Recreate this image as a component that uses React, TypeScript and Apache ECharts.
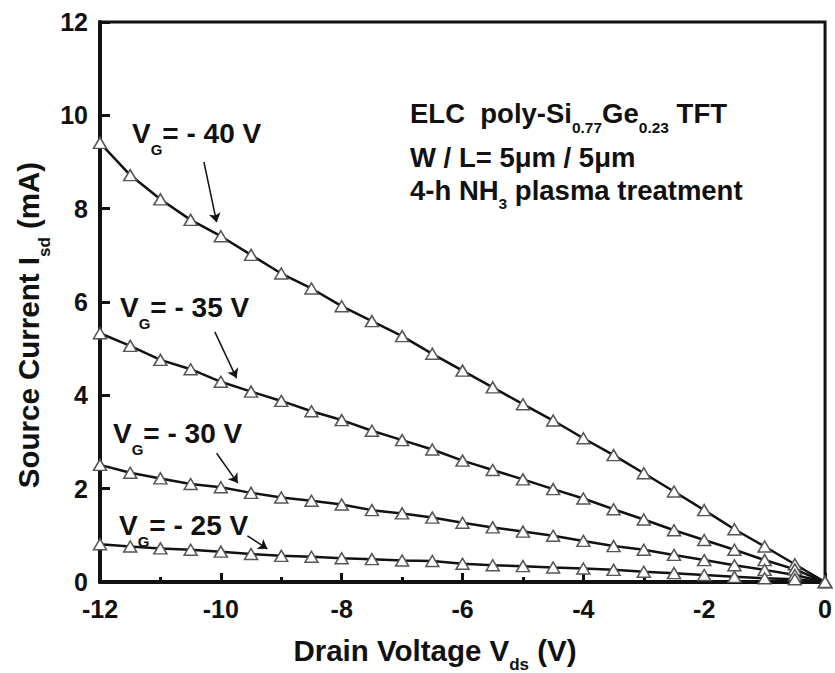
import React, { useEffect, useRef } from "react";
import * as echarts from "echarts";

const vds = [-12, -11.5, -11, -10.5, -10, -9.5, -9, -8.5, -8, -7.5, -7, -6.5, -6, -5.5, -5, -4.5, -4, -3.5, -3, -2.5, -2, -1.5, -1, -0.5, 0];
const vg40 = [9.41, 8.72, 8.2, 7.76, 7.41, 7.01, 6.61, 6.29, 5.91, 5.59, 5.27, 4.89, 4.53, 4.17, 3.81, 3.46, 3.08, 2.72, 2.33, 1.94, 1.54, 1.13, 0.76, 0.38, 0];
const vg35 = [5.33, 5.06, 4.76, 4.56, 4.29, 4.08, 3.88, 3.66, 3.47, 3.24, 3.04, 2.84, 2.6, 2.4, 2.2, 1.99, 1.79, 1.56, 1.34, 1.11, 0.9, 0.69, 0.47, 0.27, 0];
const vg30 = [2.51, 2.34, 2.22, 2.1, 2.03, 1.91, 1.81, 1.74, 1.66, 1.54, 1.47, 1.38, 1.27, 1.17, 1.08, 0.99, 0.88, 0.77, 0.69, 0.58, 0.47, 0.36, 0.26, 0.15, 0];
const vg25 = [0.81, 0.76, 0.72, 0.69, 0.65, 0.6, 0.56, 0.54, 0.51, 0.49, 0.46, 0.45, 0.39, 0.36, 0.34, 0.31, 0.29, 0.26, 0.22, 0.19, 0.15, 0.11, 0.08, 0.06, 0];

const seriesNames = ["VG = -40 V", "VG = -35 V", "VG = -30 V", "VG = -25 V"];
const seriesValues = [vg40, vg35, vg30, vg25];
const gateLabels = ["- 40 V", "- 35 V", "- 30 V", "- 25 V"];
// arrow start/end in data coordinates
const arrows = [
  [[-10.28, 9.0], [-10.07, 7.71]],
  [[-10.1, 5.36], [-9.74, 4.37]],
  [[-10.07, 2.76], [-9.72, 2.12]],
  [[-9.56, 0.99], [-9.23, 0.71]],
];

const FONT = "'Liberation Sans', Arial, sans-serif";

function richStyles(main: number, sub: number, pad: number, subLH?: number) {
  return {
    b: { fontSize: main, fontWeight: "bold", fontFamily: FONT, fill: "#111", lineHeight: main + 4 },
    s: { fontSize: sub, fontWeight: "bold", fontFamily: FONT, fill: "#111", lineHeight: subLH ?? sub + 1, padding: [pad, 0, 0, 0] },
  };
}

export default function App() {
  const ref = useRef<HTMLDivElement>(null);
  useEffect(() => {
    if (!ref.current) return;
    const chart = echarts.init(ref.current, undefined, { renderer: "svg" });
    const labelPos = [
      { x: 132, y: 133 },
      { x: 120, y: 307 },
      { x: 113, y: 433 },
      { x: 119, y: 525 },
    ];
    const graphics: any[] = gateLabels.map((g, i) => ({
      type: "text",
      x: labelPos[i].x,
      y: labelPos[i].y,
      style: {
        text: `{b|V}{s|G}{b|= ${g}}`,
        rich: richStyles(28, 15, 32),
        align: "left",
        verticalAlign: "middle",
      },
    }));
    graphics.push(
      {
        type: "text",
        x: 410,
        y: 113,
        style: {
          text: "{b|ELC\u00a0 poly-Si}{s|0.77}{b|Ge}{s|0.23}{b|\u00a0TFT}",
          rich: richStyles(27.5, 15.5, 29),
          align: "left",
          verticalAlign: "middle",
        },
      },
      {
        type: "text",
        x: 410,
        y: 157,
        style: {
          text: "{b|W / L= 5\u03bcm / 5\u03bcm}",
          rich: richStyles(27.5, 15, 0),
          align: "left",
          verticalAlign: "middle",
        },
      },
      {
        type: "text",
        x: 410,
        y: 190,
        style: {
          text: "{b|4-h NH}{s|3}{b| plasma treatment}",
          rich: richStyles(27.5, 15.5, 26),
          align: "left",
          verticalAlign: "middle",
        },
      },
      {
        type: "text",
        x: 435,
        y: 650,
        style: {
          text: "{b|Drain Voltage V}{s|ds}{b| (V)}",
          rich: richStyles(29.5, 17, 29, 10),
          align: "center",
          verticalAlign: "middle",
        },
      },
      {
        type: "text",
        x: 28,
        y: 325,
        rotation: Math.PI / 2,
        style: {
          text: "{b|Source Current I}{s|sd}{b| (mA)}",
          rich: richStyles(29.5, 17, 32),
          align: "center",
          verticalAlign: "middle",
        },
      }
    );

    const series: any[] = seriesValues.map((vals, i) => ({
      name: seriesNames[i],
      type: "line",
      data: vds.map((x, j) => [x, vals[j]]),
      symbol: "triangle",
      symbolSize: [13, 11],
      showSymbol: true,
      lineStyle: { color: "#111", width: 2.5 },
      itemStyle: { color: "#fff", borderColor: "#555", borderWidth: 1.5 },
      z: 3,
      markLine: {
        silent: true,
        symbol: ["none", "arrow"],
        symbolSize: 9,
        label: { show: false },
        lineStyle: { color: "#111", width: 1.5, type: "solid" },
        data: [[{ coord: arrows[i][0] }, { coord: arrows[i][1] }]],
      },
    }));

    chart.setOption({
      animation: false,
      backgroundColor: "#fff",
      grid: {
        left: 100,
        right: 8,
        top: 22,
        bottom: 91,
        show: true,
        borderColor: "#111",
        borderWidth: 3,
        backgroundColor: "transparent",
      },
      xAxis: {
        type: "value",
        min: -12,
        max: 0,
        interval: 2,
        axisLine: { show: true, onZero: false, lineStyle: { color: "#111", width: 4 } },
        axisTick: { show: true, inside: true, length: 9, lineStyle: { color: "#111", width: 3 } },
        minorTick: { show: true, splitNumber: 2, length: 5, lineStyle: { color: "#111", width: 3 } },
        splitLine: { show: false },
        axisLabel: { color: "#111", fontSize: 25, fontWeight: "bold", fontFamily: FONT, margin: 14 },
      },
      yAxis: {
        type: "value",
        min: 0,
        max: 12,
        interval: 2,
        axisLine: { show: true, onZero: false, lineStyle: { color: "#111", width: 4 } },
        axisTick: { show: true, inside: true, length: 10, lineStyle: { color: "#111", width: 3 } },
        splitLine: { show: false },
        axisLabel: { color: "#111", fontSize: 25, fontWeight: "bold", fontFamily: FONT, margin: 12 },
      },
      series,
      graphic: graphics,
    });
    return () => chart.dispose();
  }, []);
  return <div ref={ref} style={{ position: "absolute", left: 0, top: 0, width: 835, height: 673 }} />;
}
